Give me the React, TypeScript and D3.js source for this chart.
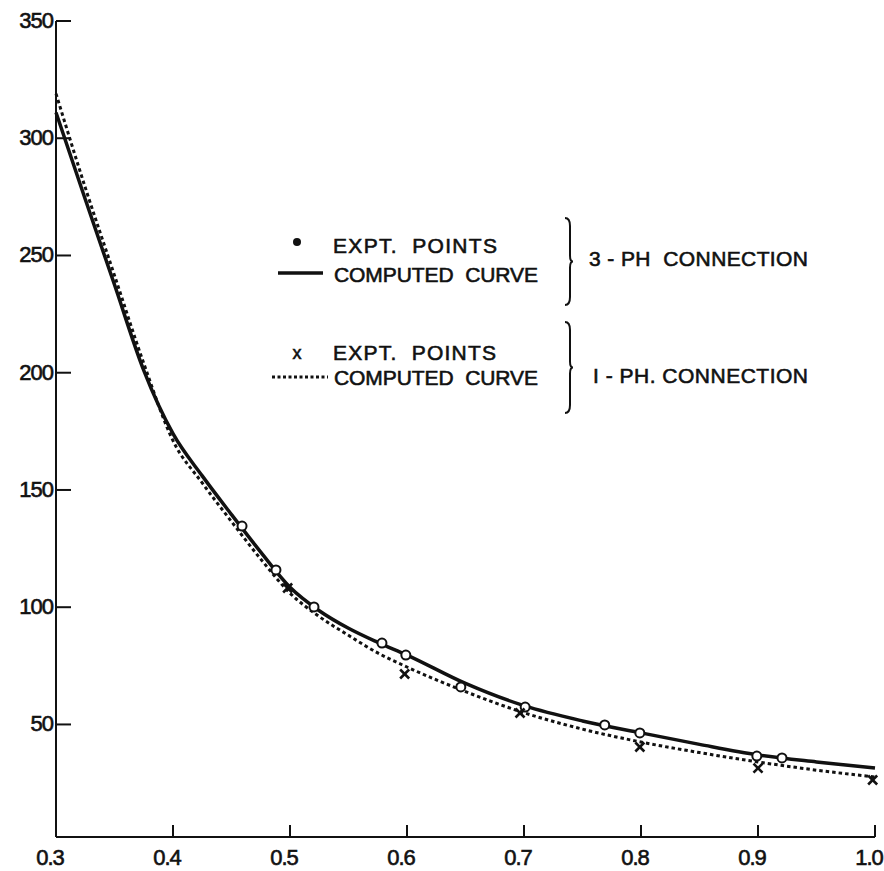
import React from 'react';
import * as d3 from 'd3';

// x grid used by both computed curves
const curveX = [0.3, 0.325, 0.35, 0.375, 0.4, 0.425, 0.45, 0.475, 0.5, 0.525, 0.55, 0.575, 0.6, 0.65, 0.7, 0.75, 0.8, 0.85, 0.9, 0.95, 1.0];
// computed curve, 3-ph connection (solid)
const threePhCurve = [311, 274, 237.5, 201, 174, 156, 139.5, 123.5, 108.5, 98.5, 91, 85, 79.6, 67.5, 58, 51.5, 46.4, 41.5, 37, 34, 31.4];
// computed curve, 1-ph connection (dotted)
const onePhCurve = [319, 279, 241.5, 204, 171, 153, 136.5, 120.5, 106, 96, 88, 80.5, 74.5, 64, 55, 48, 42.5, 38, 34, 30.5, 27.6];

// experimental points, 3-ph (drawn as open circles)
const threePhX = [0.459, 0.488, 0.5205, 0.5786, 0.599, 0.646, 0.701, 0.769, 0.799, 0.899, 0.9205];
const threePhY = [134.6, 115.9, 100.1, 84.7, 79.6, 66.0, 57.4, 49.8, 46.4, 36.5, 35.7];

// experimental points, 1-ph (x marks)
const onePhX = [0.498, 0.598, 0.6966, 0.799, 0.9, 0.998];
const onePhY = [108.2, 71.5, 54.9, 40.4, 31.4, 26.3];

const xTicks = [0.3, 0.4, 0.5, 0.6, 0.7, 0.8, 0.9, 1.0];
const xTickLabels = ['0.3', '0.4', '0.5', '0.6', '0.7', '0.8', '0.9', '1.0'];
const yTicks = [50, 100, 150, 200, 250, 300, 350];

const W = 884;
const H = 871;
const font = '"Liberation Sans", Arial, sans-serif';

function brace(x: number, y0: number, y1: number) {
  const ym = (y0 + y1) / 2;
  const w = 5;
  return `M${x - w},${y0} Q${x},${y0} ${x},${y0 + 8} L${x},${ym - 6} Q${x},${ym} ${x + 3},${ym}` +
    ` Q${x},${ym} ${x},${ym + 6} L${x},${y1 - 8} Q${x},${y1} ${x - w},${y1}`;
}

export default function App() {
  const x = d3.scaleLinear().domain([0.3, 1.0]).range([56, 875]);
  const y = d3.scaleLinear().domain([2, 350]).range([837, 21]);

  const line = d3.line<number>()
    .x((_, i) => x(curveX[i]))
    .y(d => y(d))
    .curve(d3.curveMonotoneX);

  const solidPath = line(threePhCurve) || '';
  const dottedPath = line(onePhCurve) || '';

  const txt = { fontFamily: font, fill: '#111', stroke: '#111', strokeWidth: 0.6, style: { whiteSpace: 'pre' as const } };

  return (
    <svg width={W} height={H} style={{ position: 'absolute', left: 0, top: 0, background: '#fff' }}>
      <rect width={W} height={H} fill="#fff" />

      {/* axes */}
      <line x1={x(0.3)} y1={y(350)} x2={x(0.3)} y2={y(2)} stroke="#111" strokeWidth={2} />
      <line x1={x(0.3)} y1={y(2)} x2={x(1.0)} y2={y(2)} stroke="#111" strokeWidth={2} />
      {yTicks.map(t => (
        <g key={t}>
          <line x1={x(0.3)} x2={x(0.3) + 15} y1={y(t)} y2={y(t)} stroke="#111" strokeWidth={2} />
          <text x={x(0.3) - 3} y={y(t) + 1} textAnchor="end" dominantBaseline="middle"
            fontSize={22} letterSpacing={-1} {...txt}>{t}</text>
        </g>
      ))}
      {xTicks.map((t, i) => (
        <g key={t}>
          <line x1={x(t)} x2={x(t)} y1={y(2)} y2={y(2) - 12} stroke="#111" strokeWidth={2} />
          <text x={x(t) - 6} y={y(2) + 22} textAnchor="middle" dominantBaseline="middle"
            fontSize={22} letterSpacing={-1} {...txt}>{xTickLabels[i]}</text>
        </g>
      ))}

      {/* curves */}
      <path d={dottedPath} fill="none" stroke="#111" strokeWidth={3} strokeDasharray="3.5 3" />
      <path d={solidPath} fill="none" stroke="#111" strokeWidth={3.5} />

      {threePhX.map((v, i) => (
        <circle key={'c' + i} cx={x(v)} cy={y(threePhY[i])} r={4.5} fill="#fff" stroke="#111" strokeWidth={2} />
      ))}
      {onePhX.map((v, i) => {
        const cx = x(v), cy = y(onePhY[i]), s = 4.5;
        return (
          <g key={'x' + i} stroke="#111" strokeWidth={2.6}>
            <line x1={cx - s} y1={cy - s} x2={cx + s} y2={cy + s} />
            <line x1={cx - s} y1={cy + s} x2={cx + s} y2={cy - s} />
          </g>
        );
      })}

      {/* legend */}
      <circle cx={297} cy={242} r={4} fill="#111" />
      <text x={333} y={253} fontSize={21} textLength={164} lengthAdjust="spacing" {...txt}>EXPT.  POINTS</text>
      <line x1={278} x2={323} y1={273} y2={273} stroke="#111" strokeWidth={3.5} />
      <text x={334} y={282} fontSize={21} textLength={204} lengthAdjust="spacing" {...txt}>COMPUTED  CURVE</text>
      <text x={297} y={359} fontSize={18} textAnchor="middle" {...txt}>x</text>
      <text x={333} y={360} fontSize={21} textLength={163} lengthAdjust="spacing" {...txt}>EXPT.  POINTS</text>
      <line x1={272} x2={328} y1={377} y2={377} stroke="#111" strokeWidth={3} strokeDasharray="3 2.5" />
      <text x={334} y={385} fontSize={21} textLength={204} lengthAdjust="spacing" {...txt}>COMPUTED  CURVE</text>

      <path d={brace(570, 218, 305)} fill="none" stroke="#111" strokeWidth={2} />
      <path d={brace(570, 322, 413)} fill="none" stroke="#111" strokeWidth={2} />
      <text x={589} y={266} fontSize={21} textLength={219} lengthAdjust="spacing" {...txt}>3 - PH  CONNECTION</text>
      <text x={593} y={383} fontSize={21} textLength={215} lengthAdjust="spacing" {...txt}>I - PH. CONNECTION</text>
    </svg>
  );
}
